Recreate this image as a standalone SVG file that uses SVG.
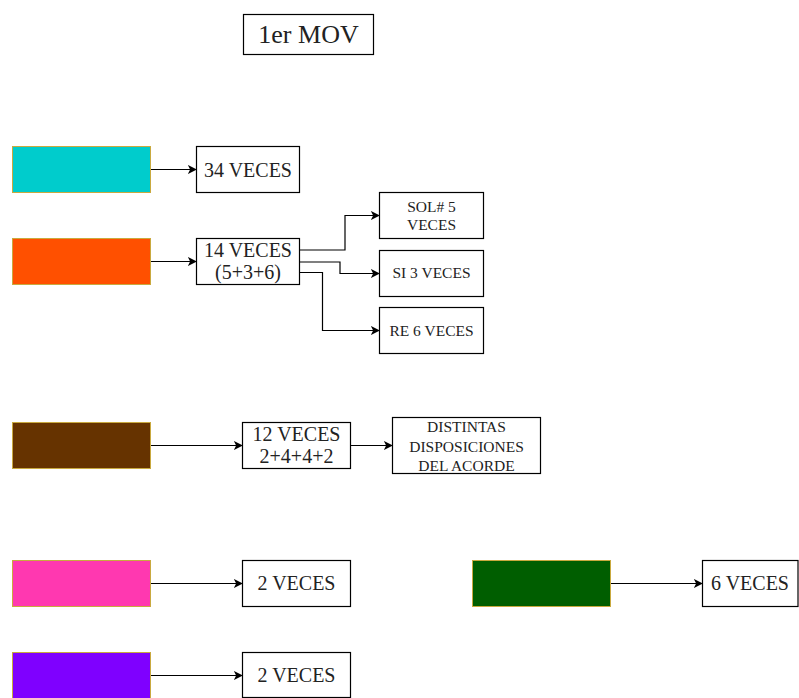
<svg xmlns="http://www.w3.org/2000/svg" width="799" height="698" viewBox="0 0 799 698">
  <defs>
    <marker id="arrow" viewBox="0 0 10 10" refX="9" refY="5" markerWidth="9" markerHeight="9" markerUnits="userSpaceOnUse" orient="auto">
      <path d="M0,0 L10,5 L0,10 L2.5,5 Z" fill="#000"/>
    </marker>
    <style>
      .box { fill: #fff; stroke: #000; stroke-width: 1.2; }
      .swatch { stroke: #c9a93f; stroke-width: 1; }
      .lbl { font-family: "Liberation Serif", "Times New Roman", serif; fill: #222; text-anchor: middle; dominant-baseline: central; }
      .big { font-size: 20px; }
      .small { font-size: 15.5px; }
      .conn { fill: none; stroke: #000; stroke-width: 1.2; marker-end: url(#arrow); }
    </style>
  </defs>
  <rect width="799" height="698" fill="#fff"/>

  <g id="title">
    <rect class="box" x="243.5" y="14.5" width="130" height="40"/>
    <text class="lbl" x="308.5" y="34.5" font-size="26">1er MOV</text>
  </g>

  <g id="swatch-cyan"><rect class="swatch" x="12.5" y="146.5" width="138" height="46" fill="#00CCCC"/></g>
  <g id="swatch-orange"><rect class="swatch" x="12.5" y="238.5" width="138" height="46" fill="#FF5000"/></g>
  <g id="swatch-brown"><rect class="swatch" x="12.5" y="422.5" width="138" height="46" fill="#663300"/></g>
  <g id="swatch-pink"><rect class="swatch" x="12.5" y="560.5" width="138" height="46" fill="#FF38B0"/></g>
  <g id="swatch-purple"><rect class="swatch" x="12.5" y="652.5" width="138" height="46" fill="#7F00FF"/></g>
  <g id="swatch-green"><rect class="swatch" x="472.5" y="560.5" width="138" height="46" fill="#005E00"/></g>

  <g id="n34">
    <rect class="box" x="196.5" y="146.5" width="103" height="46"/>
    <text class="lbl big" x="248" y="169.5">34 VECES</text>
  </g>
  <g id="n14">
    <rect class="box" x="196.5" y="238.5" width="103" height="46"/>
    <text class="lbl big" x="248" y="249.5">14 VECES</text>
    <text class="lbl big" x="248" y="271.5">(5+3+6)</text>
  </g>
  <g id="nsol">
    <rect class="box" x="379.5" y="192.5" width="104" height="46"/>
    <text class="lbl small" x="431.5" y="206">SOL# 5</text>
    <text class="lbl small" x="431.5" y="224.5">VECES</text>
  </g>
  <g id="nsi">
    <rect class="box" x="379.5" y="250.5" width="104" height="46"/>
    <text class="lbl small" x="431.5" y="272.5">SI 3 VECES</text>
  </g>
  <g id="nre">
    <rect class="box" x="379.5" y="307.5" width="104" height="46"/>
    <text class="lbl small" x="431.5" y="330">RE 6 VECES</text>
  </g>
  <g id="n12">
    <rect class="box" x="242.5" y="422.5" width="108" height="46"/>
    <text class="lbl big" x="296.5" y="433.5">12 VECES</text>
    <text class="lbl big" x="296.5" y="456">2+4+4+2</text>
  </g>
  <g id="ndist">
    <rect class="box" x="392.5" y="417.5" width="148" height="56"/>
    <text class="lbl small" x="466.5" y="426">DISTINTAS</text>
    <text class="lbl small" x="466.5" y="446">DISPOSICIONES</text>
    <text class="lbl small" x="466.5" y="465.5">DEL ACORDE</text>
  </g>
  <g id="n2a">
    <rect class="box" x="242.5" y="560.5" width="108" height="46"/>
    <text class="lbl big" x="296.5" y="583">2 VECES</text>
  </g>
  <g id="n2b">
    <rect class="box" x="242.5" y="652.5" width="108" height="45"/>
    <text class="lbl big" x="296.5" y="675">2 VECES</text>
  </g>
  <g id="n6">
    <rect class="box" x="702.5" y="560.5" width="95.5" height="46"/>
    <text class="lbl big" x="750" y="583">6 VECES</text>
  </g>

  <g id="connectors">
    <path class="conn" d="M151,169.5 H196"/>
    <path class="conn" d="M151,261.5 H196"/>
    <path class="conn" d="M300,250 H345 V215.5 H379"/>
    <path class="conn" d="M300,262 H340 V273.5 H379"/>
    <path class="conn" d="M300,272.5 H322.5 V330.5 H379"/>
    <path class="conn" d="M151,445.5 H242"/>
    <path class="conn" d="M351,445.5 H392"/>
    <path class="conn" d="M151,583.5 H242"/>
    <path class="conn" d="M151,675.5 H242"/>
    <path class="conn" d="M611,583.5 H702"/>
  </g>
</svg>
